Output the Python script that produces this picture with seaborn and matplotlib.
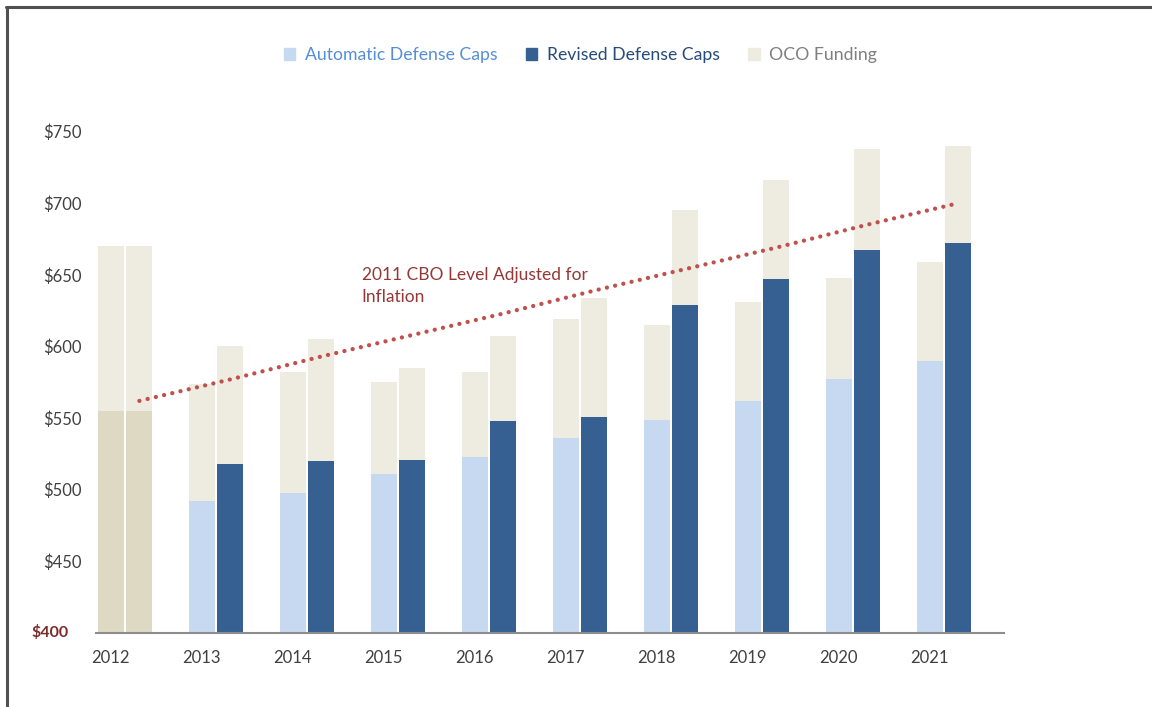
import pandas as pd
import matplotlib.pyplot as plt
import numpy as np
import seaborn as sns
from matplotlib.patches import Patch
from matplotlib.lines import Line2D

# values ($ billions)
years = ['2012', '2013', '2014', '2015', '2016', '2017', '2018', '2019', '2020', '2021']
auto_caps = [555, 492, 498, 511, 523, 536, 549, 562, 577, 590]
auto_total = [670, 574, 582, 575, 582, 619, 615, 631, 648, 659]
revised_caps = [555, 518, 520, 521, 548, 551, 629, 647, 667, 672]
revised_total = [670, 600, 605, 585, 607, 634, 695, 716, 738, 740]
cbo_level = [562, 577, 593, 608, 623, 639, 654, 669, 685, 700]

series = ['Automatic Defense Caps', 'Revised Defense Caps']

df = pd.DataFrame({
    'year': years * 2,
    'kind': [series[0]] * len(years) + [series[1]] * len(years),
    'caps': auto_caps + revised_caps,
    'total': auto_total + revised_total,
})

c_auto = '#c6d9f1'
c_rev = '#366092'
c_oco = '#eeece1'
c_2012 = '#ddd9c3'

sns.set_style('white')
plt.rcParams['font.family'] = ['Lato', 'DejaVu Sans']

fig = plt.figure(figsize=(11.52, 7.07), dpi=100)
ax = fig.add_axes([0.0833, 0.1047, 0.7882, 0.77])

w = 0.63
# OCO on top: draw totals first, caps over them
sns.barplot(data=df, x='year', y='total', hue='kind', hue_order=series,
            palette=[c_oco, c_oco], width=w, gap=0.09, ax=ax, legend=False,
            linewidth=0, saturation=1)
sns.barplot(data=df, x='year', y='caps', hue='kind', hue_order=series,
            palette=[c_auto, c_rev], width=w, gap=0.09, ax=ax, legend=False,
            linewidth=0, saturation=1)

# 2012 baseline bars are khaki rather than blue
for p in ax.patches:
    cx = p.get_x() + p.get_width() / 2
    if cx < 0.5 and p.get_height() < 600:
        p.set_facecolor(c_2012)

# CBO inflation-adjusted line across the right-hand bars
xs = np.arange(len(years)) + w / 4
ax.plot(xs, cbo_level, color='#c0504d', lw=3.1, linestyle=(0, (0.01, 1.95)),
        dash_capstyle='round', zorder=5)
ax.text(2.6, 655.5, '2011 CBO Level Adjusted for\nInflation', color='#953735',
        fontsize=12.5, ha='left', va='top', linespacing=1.5)

ax.set_ylim(400, 780)
ax.set_xlim(-0.32, 9.66)
ax.set_yticks([450, 500, 550, 600, 650, 700, 750])
ax.set_yticklabels(['$%d' % v for v in [450, 500, 550, 600, 650, 700, 750]])
ax.set_xticks(np.arange(len(years)) - w / 4)
ax.set_xticklabels(years)
ax.tick_params(axis='both', length=0, labelsize=12, colors='#404040')
ax.tick_params(axis='y', pad=10)
ax.tick_params(axis='x', pad=12)
ax.set_xlabel('')
ax.set_ylabel('')
ax.text(-0.03, 0.0, '$400', transform=ax.transAxes, ha='right', va='center',
        fontsize=11.5, fontweight='bold', color='#7b2c2a')

for s in ['top', 'right', 'left']:
    ax.spines[s].set_visible(False)
ax.spines['bottom'].set_color('#8c8c8c')
ax.spines['bottom'].set_linewidth(1.5)

handles = [Patch(color=c_auto), Patch(color=c_rev), Patch(color=c_oco)]
fig.legend(handles, series + ['OCO Funding'], loc='center', bbox_to_anchor=(0.504, 0.922),
           ncol=3, frameon=False, fontsize=12.7, handlelength=0.65, handleheight=0.65,
           handletextpad=0.55, columnspacing=1.6,
           labelcolor=['#558ed5', '#244b7a', '#7f7f7f'])

# frame lines on the top and left of the picture
fig.add_artist(Line2D([0.006, 0.006], [0, 0.99], color='#505050', lw=2.2))
fig.add_artist(Line2D([0.005, 1.0], [0.99, 0.99], color='#505050', lw=2.2))

fig.savefig('out.png', dpi=100)
